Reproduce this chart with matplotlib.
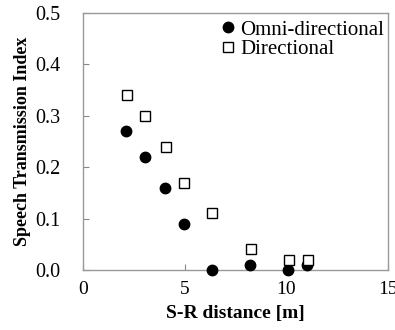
import matplotlib
matplotlib.use("Agg")
import matplotlib.pyplot as plt

x_omni = [2.1, 3.05, 4.05, 4.95, 6.35, 8.2, 10.1, 11.0]
y_omni = [0.27, 0.22, 0.16, 0.09, 0.00, 0.01, 0.00, 0.01]
x_dir = [2.15, 3.07, 4.07, 4.97, 6.36, 8.25, 10.15, 11.05]
y_dir = [0.34, 0.30, 0.24, 0.17, 0.11, 0.04, 0.02, 0.02]
xticks = [0, 5, 10, 15]
yticks = [0.0, 0.1, 0.2, 0.3, 0.4, 0.5]

plt.rcParams['font.family'] = ['Liberation Serif', 'DejaVu Serif']

fig = plt.figure(figsize=(3.95, 3.3), dpi=100)
ax = fig.add_axes([0.210, 0.182, 0.772, 0.779])

ax.plot(x_omni, y_omni, 'o', color='black', markersize=7.5, label='Omni-directional', clip_on=False, zorder=3)
ax.plot(x_dir, y_dir, 's', markerfacecolor='white', markeredgecolor='black', markeredgewidth=1.0,
        markersize=6.5, label='Directional', clip_on=False, zorder=3)

ax.set_xlim(0, 15)
ax.set_ylim(0, 0.5)
ax.set_xticks(xticks)
ax.set_yticks(yticks)
ax.set_xticklabels([str(v) for v in xticks], fontsize=14)
ax.set_yticklabels([f"{v:.1f}" for v in yticks], fontsize=14.5)
ax.tick_params(direction='in', length=4, color='#888888')
ax.tick_params(axis='y', pad=16)
ax.tick_params(axis='x', pad=8)
for s in ax.spines.values():
    s.set_color('#999999')
    s.set_linewidth(1.0)

ax.set_xlabel('S-R distance [m]', fontsize=14, fontweight='bold')
ax.set_ylabel('Speech Transmission Index', fontsize=13, fontweight='bold')
ax.xaxis.set_label_coords(0.5, -0.135)
ax.yaxis.set_label_coords(-0.17, 0.5)

leg = ax.legend(loc='upper right', frameon=False, fontsize=15, handletextpad=0.2,
                handlelength=0.8, borderaxespad=0.0, labelspacing=0.0,
                bbox_to_anchor=(1.015, 1.005))

fig.savefig('out.png', dpi=100)
